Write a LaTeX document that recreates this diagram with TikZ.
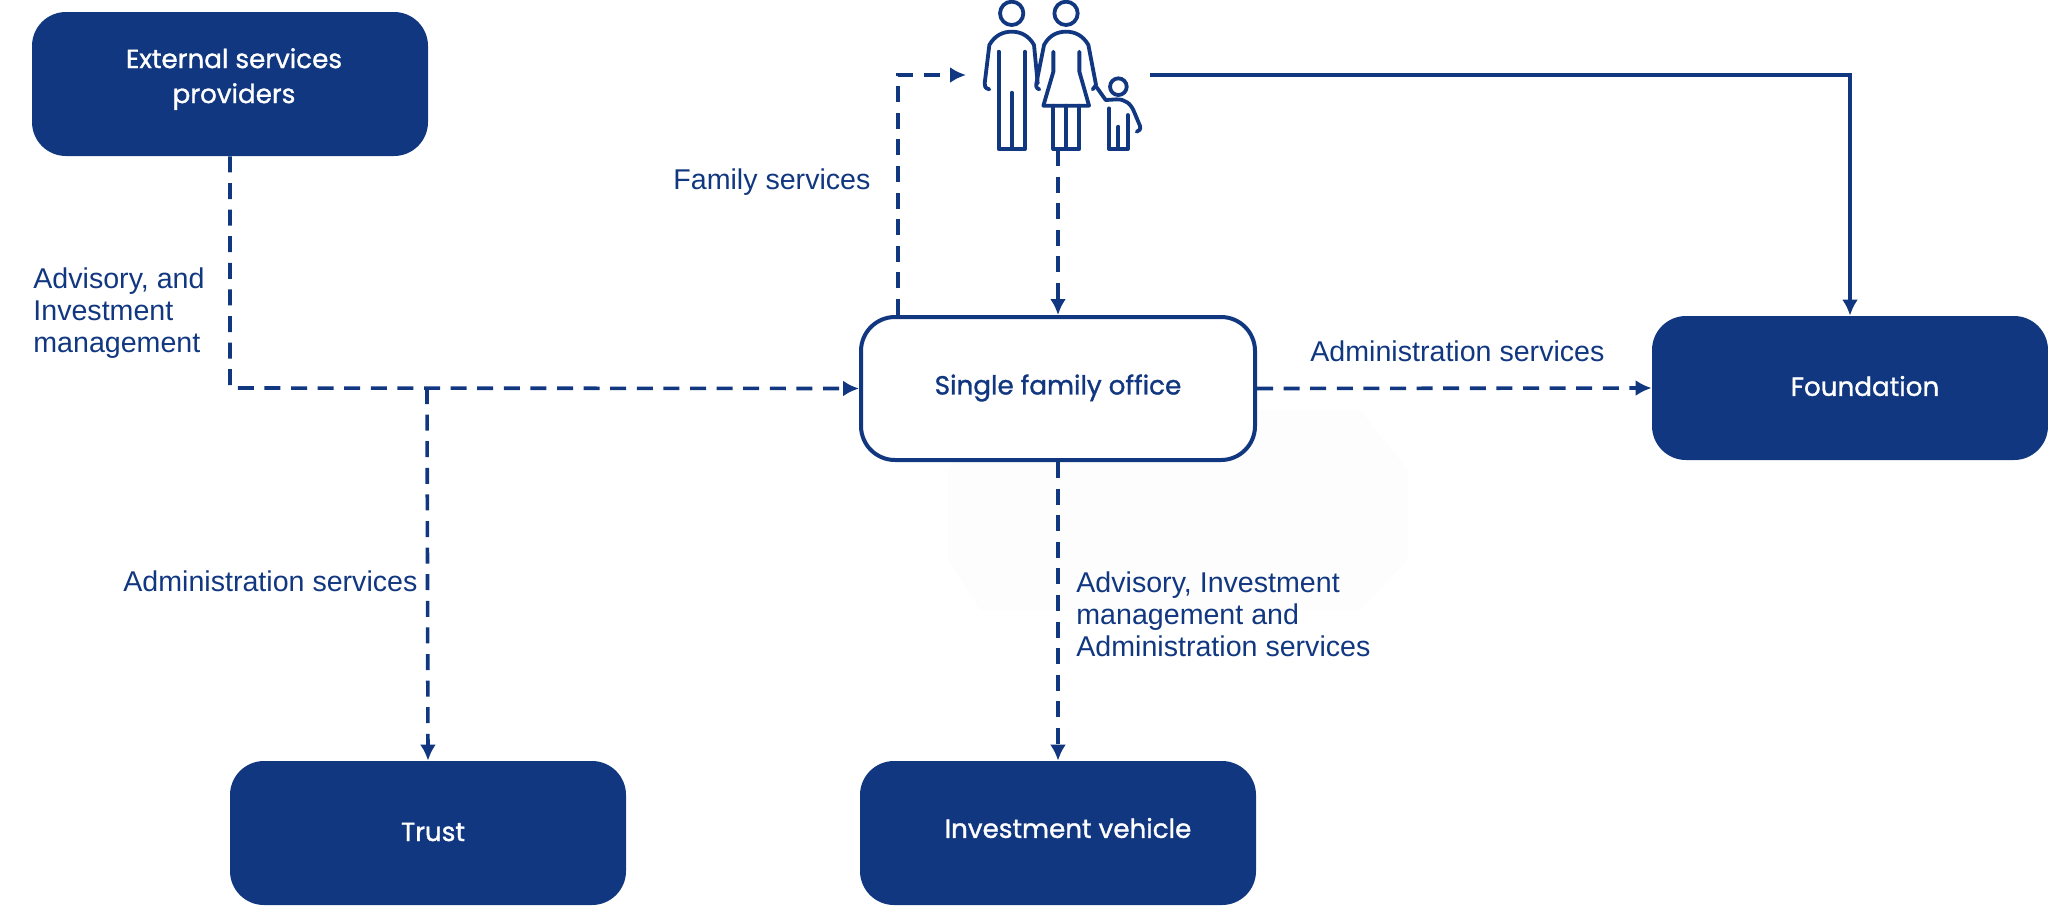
\documentclass[tikz,border=0pt]{standalone}
\usepackage{fontspec}
\setmainfont{Liberation Sans}
\newfontfamily\boxfont{Poppins}[FakeBold=1.2]
\usetikzlibrary{arrows.meta, positioning}
\definecolor{navycol}{HTML}{113780}
\definecolor{ghostcol}{HTML}{FDFDFD}
\tikzset{
  navybox/.style={fill=navycol, rounded corners=17pt, minimum width=198pt, minimum height=72pt, inner sep=0pt},
  officebox/.style={draw=navycol, line width=2pt, fill=white, rounded corners=17pt, minimum width=197pt, minimum height=71.5pt, inner sep=0pt},
  boxtext/.style={font=\boxfont\fontsize{13.1}{17.5}\selectfont, text=white, align=center, inner sep=0pt},
  edgetext/.style={font=\fontsize{14.3}{16}\selectfont, text=navycol, align=left, inner sep=0pt},
  dashlink/.style={navycol, line width=1.8pt, dash pattern=on 8pt off 5.3pt, -{Latex[length=8pt, width=8pt]}},
  solidlink/.style={navycol, line width=1.8pt, -{Latex[length=8pt, width=8pt]}},
  icon/.style={navycol, line width=1.9pt, line cap=round, line join=round}
}
\begin{document}
\begin{tikzpicture}[x=0.5pt, y=-0.5pt]
\useasboundingbox (0,0) rectangle (2048,905);

% Faint patch behind the office
\fill[ghostcol] (948,470) -- (980,410) -- (1360,410) -- (1408,470) -- (1408,560) -- (1360,610) -- (980,610) -- (948,560) -- cycle;

% Boxes
\node[navybox] (external) at (230,84) {};
\node[navybox] (foundation) at (1850,388) {};
\node[navybox] (trust) at (428,833) {};
\node[navybox] (vehicle) at (1058,833) {};
\node[officebox] (office) at (1058,388.5) {};

% Box texts
\node[boxtext] (externaltext) at (234,79) {External services\\providers};
\node[boxtext] (foundationtext) at (1865,386) {Foundation};
\node[boxtext] (trusttext) at (433,832) {Trust};
\node[boxtext] (vehicletext) at (1068,828) {Investment vehicle};
\node[boxtext, text=navycol] (officetext) at (1058,388) {Single family office};

% Free ends
\coordinate (corner) at (230,388);
\coordinate (branch) at (427,388);
\coordinate (familyin) at (966,75);
\coordinate (familyout) at (1150,75);
\coordinate (familydown) at (1058,150);

% Connectors
\draw[dashlink] (external.south) -- (corner) -- (office.west);
\draw[dashlink] (branch) -- (trust.north);
\draw[dashlink] ([xshift=-80pt]office.north) |- (familyin);
\draw[dashlink] (familydown) -- (office.north);
\draw[dashlink] (office.east) -- (foundation.west);
\draw[dashlink] (office.south) -- (vehicle.north);
\draw[solidlink] (familyout) -| (foundation.north);

% Family
\begin{scope}[shift={(940,0)}, x=0.1667pt, y=-0.1667pt, icon]
  % father
  \draw (215,40) circle (35);
  \draw (148,268) .. controls (135,265) and (133,258) .. (134,250) -- (148,135) .. controls (165,105) and (190,95) .. (215,95) .. controls (240,95) and (265,105) .. (282,135) -- (293,250);
  \draw (176,155) -- (176,447) -- (255,447) -- (255,155);
  \draw (215,278) -- (215,447);
  % mother
  \draw (378,40) circle (35);
  \draw (298,268) .. controls (288,265) and (287,258) .. (290,245) -- (312,135) .. controls (328,105) and (353,95) .. (378,95) .. controls (403,95) and (428,105) .. (445,135) -- (468,255) -- (458,268);
  \draw (340,155) -- (340,215) -- (310,317) -- (447,317) -- (418,215) -- (418,155);
  \draw (340,317) -- (340,447) -- (418,447) -- (418,317);
  \draw (378,317) -- (378,447);
  % child
  \draw (535,260) circle (25);
  \draw (470,262) -- (497,300) -- (530,298) .. controls (555,298) and (572,310) .. (582,335) -- (600,378) .. controls (602,388) and (598,393) .. (590,395);
  \draw (507,325) -- (507,447) -- (563,447) -- (563,345);
  \draw (535,380) -- (535,447);
\end{scope}

% Labels
\node[edgetext, anchor=west] (familylabel) at (673,182) {Family services};
\node[edgetext, anchor=west] (adminfoundation) at (1310,351) {Administration services};
\node[edgetext, anchor=west] (admintrust) at (123,581) {Administration services};
\node[edgetext, anchor=west] (advisoryleft) at (33,313) {Advisory, and\\Investment\\management};
\node[edgetext, anchor=west] (advisorybottom) at (1076,614) {Advisory, Investment\\management and\\Administration services};
\end{tikzpicture}
\end{document}
